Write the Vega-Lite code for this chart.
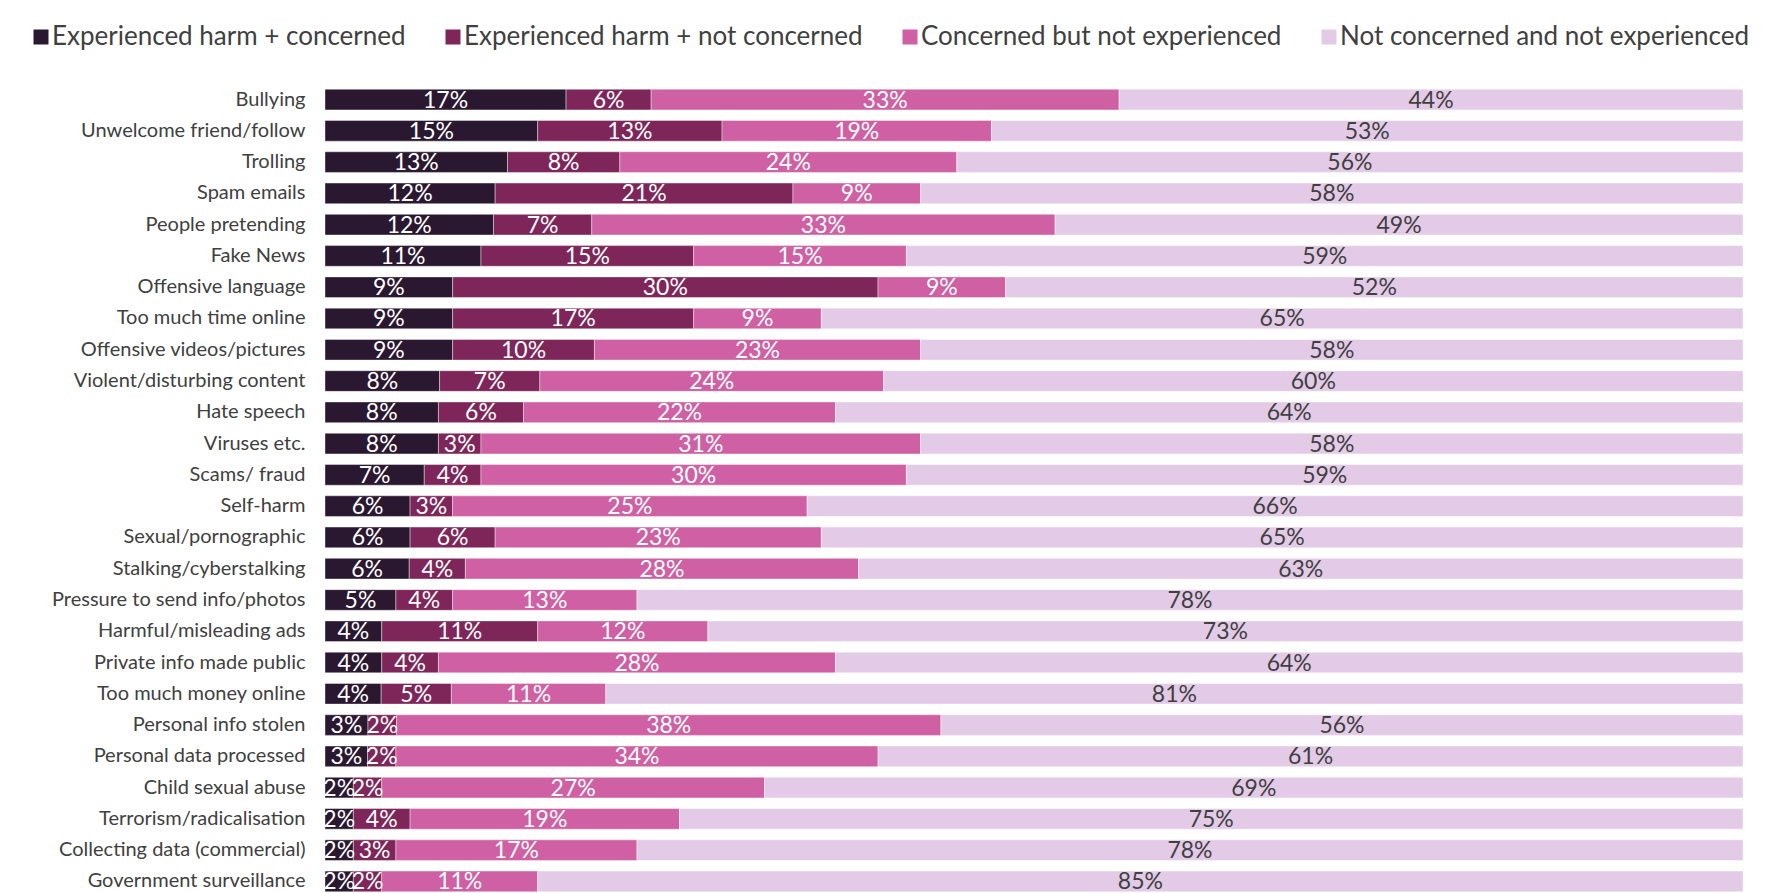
{
  "$schema": "https://vega.github.io/schema/vega-lite/v6.json",
  "autosize": "none",
  "width": 1418,
  "height": 805,
  "padding": {"left": 325, "top": 88, "right": 27, "bottom": 0},
  "background": "white",
  "config": {"view": {"stroke": null}, "font": "Lato"},
  "datasets": {
    "seg": [
      {"t": "a", "k": 1, "label": "Experienced harm + concerned"},
      {"t": "b", "k": 2, "label": "Experienced harm + not concerned"},
      {"t": "c", "k": 3, "label": "Concerned but not experienced"},
      {"t": "d", "k": 4, "label": "Not concerned and not experienced"}
    ]
  },
  "data": {
    "values": [
      {"h": "Bullying", "a": 0.17, "b": 0.06, "c": 0.33, "d": 0.44},
      {"h": "Unwelcome friend/follow", "a": 0.15, "b": 0.13, "c": 0.19, "d": 0.53},
      {"h": "Trolling", "a": 0.13, "b": 0.08, "c": 0.24, "d": 0.56},
      {"h": "Spam emails", "a": 0.12, "b": 0.21, "c": 0.09, "d": 0.58},
      {"h": "People pretending", "a": 0.12, "b": 0.07, "c": 0.33, "d": 0.49},
      {"h": "Fake News", "a": 0.11, "b": 0.15, "c": 0.15, "d": 0.59},
      {"h": "Offensive language", "a": 0.09, "b": 0.30, "c": 0.09, "d": 0.52},
      {"h": "Too much time online", "a": 0.09, "b": 0.17, "c": 0.09, "d": 0.65},
      {"h": "Offensive videos/pictures", "a": 0.09, "b": 0.10, "c": 0.23, "d": 0.58},
      {"h": "Violent/disturbing content", "a": 0.08, "b": 0.07, "c": 0.24, "d": 0.60},
      {"h": "Hate speech", "a": 0.08, "b": 0.06, "c": 0.22, "d": 0.64},
      {"h": "Viruses etc.", "a": 0.08, "b": 0.03, "c": 0.31, "d": 0.58},
      {"h": "Scams/ fraud", "a": 0.07, "b": 0.04, "c": 0.30, "d": 0.59},
      {"h": "Self-harm", "a": 0.06, "b": 0.03, "c": 0.25, "d": 0.66},
      {"h": "Sexual/pornographic", "a": 0.06, "b": 0.06, "c": 0.23, "d": 0.65},
      {"h": "Stalking/cyberstalking", "a": 0.06, "b": 0.04, "c": 0.28, "d": 0.63},
      {"h": "Pressure to send info/photos", "a": 0.05, "b": 0.04, "c": 0.13, "d": 0.78},
      {"h": "Harmful/misleading ads", "a": 0.04, "b": 0.11, "c": 0.12, "d": 0.73},
      {"h": "Private info made public", "a": 0.04, "b": 0.04, "c": 0.28, "d": 0.64},
      {"h": "Too much money online", "a": 0.04, "b": 0.05, "c": 0.11, "d": 0.81},
      {"h": "Personal info stolen", "a": 0.03, "b": 0.02, "c": 0.38, "d": 0.56},
      {"h": "Personal data processed", "a": 0.03, "b": 0.02, "c": 0.34, "d": 0.61},
      {"h": "Child sexual abuse", "a": 0.02, "b": 0.02, "c": 0.27, "d": 0.69},
      {"h": "Terrorism/radicalisation", "a": 0.02, "b": 0.04, "c": 0.19, "d": 0.75},
      {"h": "Collecting data (commercial)", "a": 0.02, "b": 0.03, "c": 0.17, "d": 0.78},
      {"h": "Government surveillance", "a": 0.02, "b": 0.02, "c": 0.11, "d": 0.85}
    ]
  },
  "transform": [
    {"fold": ["a", "b", "c", "d"], "as": ["t", "v"]},
    {"lookup": "t", "from": {"data": {"name": "seg"}, "key": "t", "fields": ["k", "label"]}}
  ],
  "encoding": {
    "y": {
      "field": "h",
      "type": "nominal",
      "sort": null,
      "scale": {"paddingInner": 0.34, "paddingOuter": 0.04},
      "axis": {
        "title": null,
        "domain": false,
        "ticks": false,
        "labelFontSize": 20,
        "labelColor": "#404040",
        "labelPadding": 20,
        "labelLimit": 400,
        "labelFont": "Lato"
      }
    },
    "x": {"field": "v", "type": "quantitative", "stack": "normalize", "axis": null, "scale": {"nice": false}},
    "order": {"field": "k", "type": "quantitative"}
  },
  "layer": [
    {
      "mark": {"type": "bar", "stroke": "white", "strokeWidth": 0.5, "strokeOpacity": 0.8},
      "encoding": {
        "color": {
          "field": "label",
          "type": "nominal",
          "sort": ["Experienced harm + concerned", "Experienced harm + not concerned", "Concerned but not experienced", "Not concerned and not experienced"],
          "scale": {
            "domain": ["Experienced harm + concerned", "Experienced harm + not concerned", "Concerned but not experienced", "Not concerned and not experienced"],
            "range": ["#2a1830", "#7e2659", "#cf60a3", "#e3cbe7"]
          },
          "legend": {
            "title": null,
            "orient": "none",
            "direction": "horizontal",
            "columns": 4,
            "legendX": -297,
            "legendY": -64,
            "symbolType": "square",
            "symbolSize": 225,
            "symbolStrokeWidth": 0,
            "labelFontSize": 26,
            "labelColor": "#404040",
            "labelFont": "Lato",
            "labelOffset": -2,
            "labelLimit": 600,
            "columnPadding": 34
          }
        }
      }
    },
    {
      "mark": {"type": "text", "fontSize": 23, "baseline": "middle", "dy": 1, "font": "Lato"},
      "encoding": {
        "x": {"field": "v", "type": "quantitative", "stack": "normalize", "bandPosition": 0.5},
        "detail": {"field": "label"},
        "text": {"field": "v", "type": "quantitative", "format": ".0%"},
        "color": {"condition": {"test": "datum.k == 4", "value": "#404040"}, "value": "#ffffff"}
      }
    }
  ]
}
